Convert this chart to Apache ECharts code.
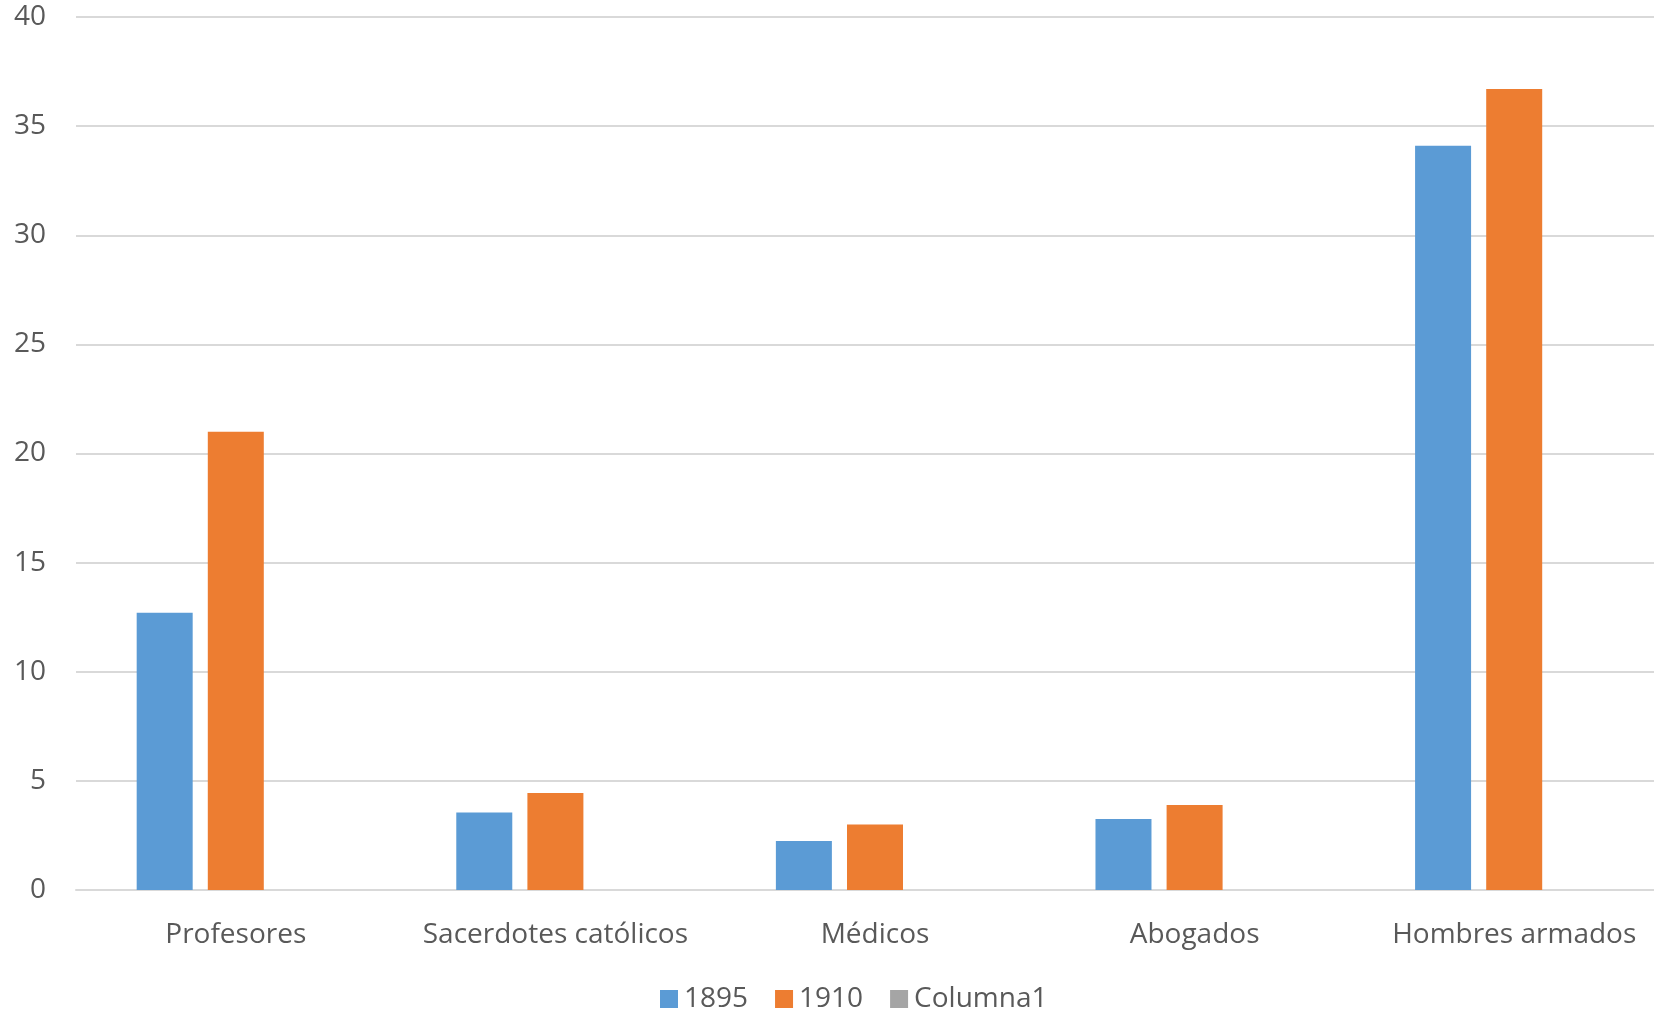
<!DOCTYPE html>
<html>
<head>
<meta charset="utf-8">
<script src="https://cdn.jsdelivr.net/npm/echarts@6/dist/echarts.min.js"></script>
<style>
  html, body { margin: 0; padding: 0; background: #fff; }
  #chart { width: 1654px; height: 1009px; }
</style>
</head>
<body>
<div id="chart"></div>
<script>
// categorias y valores
var categories = ["Profesores", "Sacerdotes católicos", "Médicos", "Abogados", "Hombres armados"];
var values1895 = [12.7, 3.55, 2.25, 3.25, 34.1];
var values1910 = [21.0, 4.45, 3.0, 3.9, 36.7];
var valuesColumna1 = [null, null, null, null, null];
var seriesNames = ["1895", "1910", "Columna1"];

var textColor = "#595959";
var gridColor = "#d9d9d9";
var font = "Open Sans";

var chart = echarts.init(document.getElementById("chart"));
chart.setOption({
  animation: false,
  color: ["#5b9bd5", "#ed7d31", "#a5a5a5"],
  // el area del grafico sigue un poco mas alla del borde derecho
  grid: { left: 76, width: 1598, top: 17, bottom: 119, containLabel: false, outerBoundsMode: "none" },
  legend: {
    data: seriesNames,
    left: 655,
    top: 980,
    icon: "rect",
    itemWidth: 18,
    itemHeight: 18,
    itemGap: 27,
    textStyle: { color: textColor, fontSize: 28, fontFamily: font, padding: [0, 0, 0, 1] }
  },
  xAxis: {
    type: "category",
    data: categories,
    axisLine: { lineStyle: { color: gridColor, width: 2 } },
    axisTick: { show: false },
    axisLabel: { color: textColor, fontSize: 28, fontFamily: font, margin: 31, interval: 0 }
  },
  yAxis: {
    type: "value",
    min: 0,
    max: 40,
    interval: 5,
    axisLine: { show: false },
    axisTick: { show: false },
    splitLine: { lineStyle: { color: gridColor, width: 2 } },
    axisLabel: { color: textColor, fontSize: 28, fontFamily: font, margin: 30 }
  },
  series: [
    { name: seriesNames[0], type: "bar", data: values1895, barWidth: 56, barGap: "27%" },
    { name: seriesNames[1], type: "bar", data: values1910, barWidth: 56, barGap: "27%" },
    { name: seriesNames[2], type: "bar", data: valuesColumna1, barWidth: 56, barGap: "27%" }
  ]
});
</script>
</body>
</html>
